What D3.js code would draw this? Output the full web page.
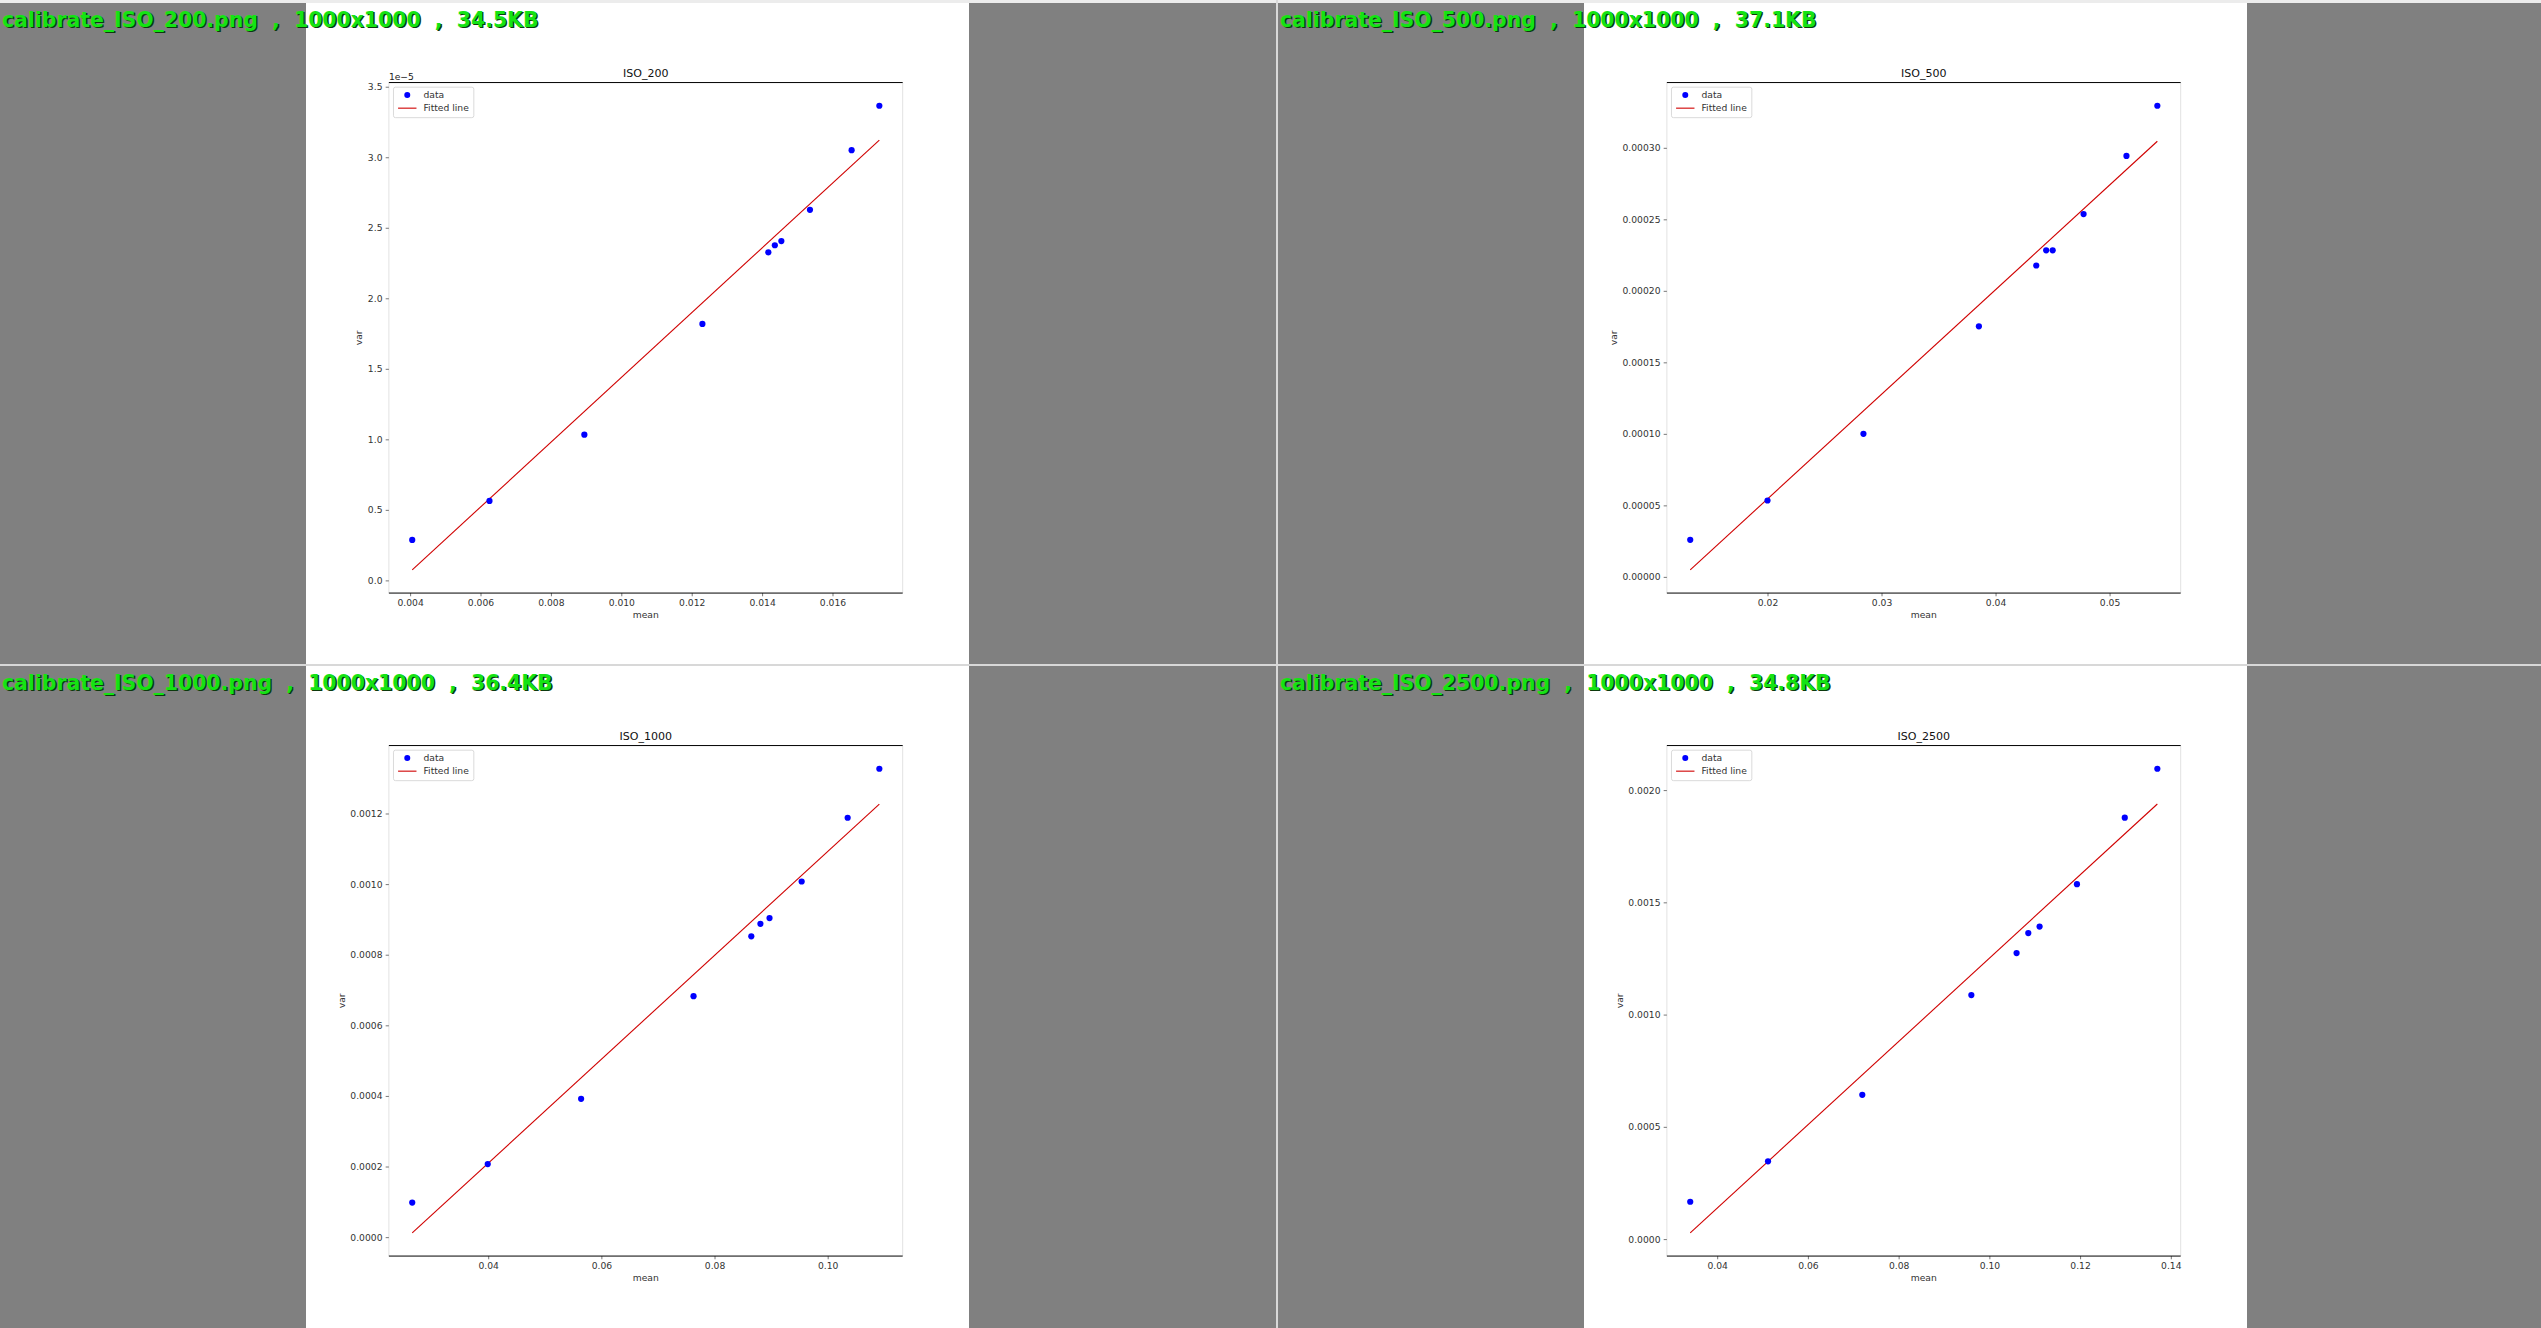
<!DOCTYPE html>
<html><head><meta charset="utf-8">
<script src="https://cdn.jsdelivr.net/npm/d3@7"></script>
<style>html,body{margin:0;padding:0;background:#808080;overflow:hidden} svg{display:block}</style>
</head><body><svg id="c" width="2541" height="1328"></svg>
<script>
// ---------- data ----------
const panelTitles = ["ISO_200", "ISO_500", "ISO_1000", "ISO_2500"];
const fileNames = ["calibrate_ISO_200.png", "calibrate_ISO_500.png", "calibrate_ISO_1000.png", "calibrate_ISO_2500.png"];
const fileSizes = ["34.5KB", "37.1KB", "36.4KB", "34.8KB"];
const imageDims = "1000x1000";
const legendLabels = ["data", "Fitted line"];
const xLabel = "mean";
const yLabel = "var";

const iso200Mean = [0.00406, 0.006255, 0.00895, 0.012304, 0.014177, 0.014362, 0.014547, 0.01536, 0.016543, 0.017331];
const iso200Var  = [0.287e-5, 0.5635e-5, 1.033e-5, 1.818e-5, 2.326e-5, 2.376e-5, 2.406e-5, 2.627e-5, 3.050e-5, 3.365e-5];
const iso200Fit  = [0.0746e-5, 3.122e-5];
const iso200XTicks = [0.004, 0.006, 0.008, 0.010, 0.012, 0.014, 0.016];
const iso200XLabels = ["0.004", "0.006", "0.008", "0.010", "0.012", "0.014", "0.016"];
const iso200YTicks = [0, 0.5e-5, 1.0e-5, 1.5e-5, 2.0e-5, 2.5e-5, 3.0e-5, 3.5e-5];
const iso200YLabels = ["0.0", "0.5", "1.0", "1.5", "2.0", "2.5", "3.0", "3.5"];
const iso200Offset = "1e\u22125";

const iso500Mean = [0.013223, 0.0200, 0.028414, 0.03854, 0.04357, 0.04444, 0.04501, 0.04772, 0.05148, 0.05419];
const iso500Var  = [2.59e-5, 5.34e-5, 10.0e-5, 17.52e-5, 21.77e-5, 22.83e-5, 22.83e-5, 25.37e-5, 29.43e-5, 32.94e-5];
const iso500Fit  = [0.49e-5, 30.46e-5];
const iso500XTicks = [0.02, 0.03, 0.04, 0.05];
const iso500XLabels = ["0.02", "0.03", "0.04", "0.05"];
const iso500YTicks = [0, 0.00005, 0.00010, 0.00015, 0.00020, 0.00025, 0.00030];
const iso500YLabels = ["0.00000", "0.00005", "0.00010", "0.00015", "0.00020", "0.00025", "0.00030"];

const iso1000Mean = [0.026573, 0.03992, 0.05642, 0.07629, 0.08650, 0.08811, 0.08972, 0.09540, 0.10353, 0.10913];
const iso1000Var  = [0.980e-4, 2.070e-4, 3.919e-4, 6.826e-4, 8.521e-4, 8.874e-4, 9.039e-4, 10.074e-4, 11.879e-4, 13.267e-4];
const iso1000Fit  = [0.121e-4, 12.265e-4];
const iso1000XTicks = [0.04, 0.06, 0.08, 0.10];
const iso1000XLabels = ["0.04", "0.06", "0.08", "0.10"];
const iso1000YTicks = [0, 0.0002, 0.0004, 0.0006, 0.0008, 0.0010, 0.0012];
const iso1000YLabels = ["0.0000", "0.0002", "0.0004", "0.0006", "0.0008", "0.0010", "0.0012"];

const iso2500Mean = [0.03406, 0.05121, 0.07199, 0.09603, 0.10600, 0.10858, 0.11107, 0.11931, 0.12985, 0.13703];
const iso2500Var  = [1.662e-4, 3.463e-4, 6.424e-4, 10.87e-4, 12.74e-4, 13.63e-4, 13.92e-4, 15.81e-4, 18.77e-4, 20.95e-4];
const iso2500Fit  = [0.277e-4, 19.38e-4];
const iso2500XTicks = [0.04, 0.06, 0.08, 0.10, 0.12, 0.14];
const iso2500XLabels = ["0.04", "0.06", "0.08", "0.10", "0.12", "0.14"];
const iso2500YTicks = [0, 0.0005, 0.0010, 0.0015, 0.0020];
const iso2500YLabels = ["0.0000", "0.0005", "0.0010", "0.0015", "0.0020"];

const panels = [
  {mean: iso200Mean, v: iso200Var, fit: iso200Fit, xt: iso200XTicks, xl: iso200XLabels, yt: iso200YTicks, yl: iso200YLabels, offset: iso200Offset},
  {mean: iso500Mean, v: iso500Var, fit: iso500Fit, xt: iso500XTicks, xl: iso500XLabels, yt: iso500YTicks, yl: iso500YLabels, offset: null},
  {mean: iso1000Mean, v: iso1000Var, fit: iso1000Fit, xt: iso1000XTicks, xl: iso1000XLabels, yt: iso1000YTicks, yl: iso1000YLabels, offset: null},
  {mean: iso2500Mean, v: iso2500Var, fit: iso2500Fit, xt: iso2500XTicks, xl: iso2500XLabels, yt: iso2500YTicks, yl: iso2500YLabels, offset: null}
];

// ---------- layout ----------
const W = 2541, H = 1328;
const colX = [0, 1278], rowY = [3, 666];
const S = 663, k = S / 1000;
const FONT = "'DejaVu Sans', Verdana, sans-serif";
const fs = 13.89 * k;      // 10pt in the 1000px figure
const svg = d3.select("#c");

svg.append("rect").attr("x", 0).attr("y", 0).attr("width", W).attr("height", H).attr("fill", "#808080");

panels.forEach((p, i) => {
  const cx = colX[i % 2], cy = rowY[Math.floor(i / 2)];
  const ix = cx + 306, iy = cy;
  const g = svg.append("g");
  g.append("rect").attr("x", ix).attr("y", iy).attr("width", S).attr("height", S).attr("fill", "#ffffff");

  const axL = ix + 125 * k, axR = ix + 900 * k, axT = iy + 120 * k, axB = iy + 890 * k;

  const xe = d3.extent(p.mean);
  const ye = d3.extent(p.v.concat(p.fit));
  const xm = (xe[1] - xe[0]) * 0.05, ym = (ye[1] - ye[0]) * 0.05;
  const x = d3.scaleLinear().domain([xe[0] - xm, xe[1] + xm]).range([axL, axR]);
  const y = d3.scaleLinear().domain([ye[0] - ym, ye[1] + ym]).range([axB, axT]);

  // spines
  g.append("line").attr("x1", axL).attr("x2", axL).attr("y1", axT).attr("y2", axB).attr("stroke", "#e2e2e2").attr("stroke-width", 1);
  g.append("line").attr("x1", axR).attr("x2", axR).attr("y1", axT).attr("y2", axB).attr("stroke", "#e2e2e2").attr("stroke-width", 1);

  // axes
  const xa = g.append("g").attr("transform", `translate(0,${axB})`)
    .call(d3.axisBottom(x).tickValues(p.xt).tickFormat((d, j) => p.xl[j]).tickSize(3.2).tickPadding(3.2));
  const ya = g.append("g").attr("transform", `translate(${axL},0)`)
    .call(d3.axisLeft(y).tickValues(p.yt).tickFormat((d, j) => p.yl[j]).tickSize(3.2).tickPadding(3.2));
  [xa, ya].forEach(a => {
    a.select(".domain").remove();
    a.selectAll("line").attr("stroke", "#555").attr("stroke-width", 0.8);
    a.selectAll("text").attr("font-family", FONT).attr("font-size", fs).attr("fill", "#333");
  });

  g.append("line").attr("x1", axL).attr("x2", axR).attr("y1", axT).attr("y2", axT).attr("stroke", "#000").attr("stroke-width", 1);
  g.append("line").attr("x1", axL).attr("x2", axR).attr("y1", axB).attr("y2", axB).attr("stroke", "#000").attr("stroke-width", 1);

  // fitted line
  const fitPts = [[xe[0], p.fit[0]], [xe[1], p.fit[1]]];
  g.append("path").attr("d", d3.line().x(d => x(d[0])).y(d => y(d[1]))(fitPts))
    .attr("fill", "none").attr("stroke", "#d00000").attr("stroke-width", 1.1);

  // data points
  g.selectAll("circle.pt").data(p.mean.map((m, j) => [m, p.v[j]])).enter().append("circle")
    .attr("class", "pt").attr("cx", d => x(d[0])).attr("cy", d => y(d[1])).attr("r", 3.1).attr("fill", "#0000ff");

  // title
  g.append("text").attr("x", (axL + axR) / 2).attr("y", axT - 6).attr("text-anchor", "middle")
    .attr("font-family", FONT).attr("font-size", 16.67 * k).attr("fill", "#111").text(panelTitles[i]);

  // offset text
  if (p.offset) {
    g.append("text").attr("x", axL).attr("y", axT - 3).attr("font-family", FONT).attr("font-size", fs)
      .attr("fill", "#222").text(p.offset);
  }

  // axis labels
  g.append("text").attr("x", (axL + axR) / 2).attr("y", axB + 24.5).attr("text-anchor", "middle")
    .attr("font-family", FONT).attr("font-size", fs).attr("fill", "#333").text(xLabel);
  const bb = ya.node().getBBox();
  const ylx = axL + bb.x - 3.7 - 2;
  g.append("text").attr("transform", `translate(${ylx},${(axT + axB) / 2}) rotate(-90)`).attr("text-anchor", "middle")
    .attr("font-family", FONT).attr("font-size", fs).attr("fill", "#333").text(yLabel);

  // legend
  const lx = axL + 4.6, ly = axT + 4.6;
  const lg = g.append("g");
  const box = lg.append("rect").attr("x", lx).attr("y", ly).attr("height", 30.5).attr("rx", 2)
    .attr("fill", "#fff").attr("fill-opacity", 0.8).attr("stroke", "#d0d0d0").attr("stroke-width", 0.8);
  lg.append("circle").attr("cx", lx + 13.8).attr("cy", ly + 7.8).attr("r", 3).attr("fill", "#0000ff");
  lg.append("line").attr("x1", lx + 4.6).attr("x2", lx + 23).attr("y1", ly + 21).attr("y2", ly + 21)
    .attr("stroke", "#d00000").attr("stroke-width", 1.1);
  const t1 = lg.append("text").attr("x", lx + 30).attr("y", ly + 7.8).attr("dy", "0.35em")
    .attr("font-family", FONT).attr("font-size", fs).attr("fill", "#333").text(legendLabels[0]);
  const t2 = lg.append("text").attr("x", lx + 30).attr("y", ly + 21).attr("dy", "0.35em")
    .attr("font-family", FONT).attr("font-size", fs).attr("fill", "#333").text(legendLabels[1]);
  const tw = Math.max(t1.node().getComputedTextLength(), t2.node().getComputedTextLength());
  box.attr("width", 30 + tw + 5);

  // header label
  const label = fileNames[i] + "  ,  " + imageDims + "  ,  " + fileSizes[i];
  [["#0c3a0c", 1.4], ["#14e314", 0]].forEach(([col, off]) => {
    svg.append("text").attr("x", cx + 2 + off).attr("y", cy + 24 + off)
      .attr("font-family", FONT).attr("font-weight", "bold").attr("font-size", 20.4)
      .attr("fill", col).style("white-space", "pre").text(label);
  });
});

// top strip and dividers
svg.append("rect").attr("x", 0).attr("y", 0).attr("width", W).attr("height", 3).attr("fill", "#ececec");
svg.append("rect").attr("x", 0).attr("y", 664).attr("width", W).attr("height", 2).attr("fill", "#d8d8d8");
svg.append("rect").attr("x", 1276).attr("y", 0).attr("width", 2).attr("height", H).attr("fill", "#d8d8d8");
</script>
</body></html>
